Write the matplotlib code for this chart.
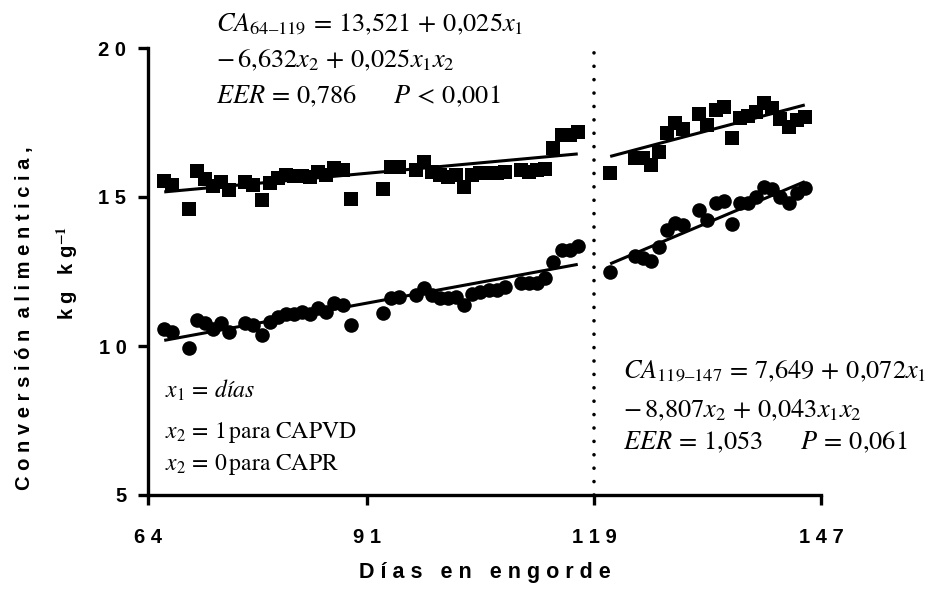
import numpy as np
import matplotlib.pyplot as plt

plt.rcParams['font.family'] = ['Liberation Sans', 'DejaVu Sans']
plt.rcParams['mathtext.fontset'] = 'stix'

# periodo 64-119
dias1 = [66, 67, 69, 70, 71, 72, 73, 74, 76, 77, 78, 79, 80, 81, 82, 83, 84, 85, 86, 87, 88, 89,
         93, 94, 95, 97, 98, 99, 100, 101, 102, 103, 104, 105, 106, 107, 108,
         110, 111, 112, 113, 114, 115, 116, 117]
capr1 = [15.53, 15.40, 14.59, 15.88, 15.59, 15.37, 15.51, 15.23, 15.51, 15.40, 14.90, 15.46,
         15.63, 15.74, 15.70, 15.70, 15.68, 15.85, 15.75, 15.96, 15.90, 14.92,
         15.27, 16.02, 16.02, 15.90, 16.18, 15.85, 15.74, 15.68, 15.74, 15.35, 15.74, 15.80,
         15.80, 15.80, 15.85, 15.90, 15.85, 15.90, 15.95, 16.63, 17.08, 17.08, 17.19]
capvd1 = [10.56, 10.48, 9.94, 10.87, 10.76, 10.56, 10.76, 10.48, 10.76, 10.70, 10.37, 10.82,
          10.98, 11.09, 11.09, 11.15, 11.09, 11.26, 11.15, 11.43, 11.38, 10.70,
          11.10, 11.60, 11.65, 11.71, 11.93, 11.71, 11.60, 11.60, 11.65, 11.38, 11.76, 11.82,
          11.88, 11.88, 11.99, 12.10, 12.10, 12.10, 12.27, 12.83, 13.22, 13.22, 13.36]

# periodo 119-147
dias2 = [121, 124, 125, 126, 127, 128, 129, 130, 132, 133, 134, 135, 136, 137, 138, 139,
         140, 141, 142, 143, 144, 145]
capr2 = [15.80, 16.30, 16.30, 16.07, 16.52, 17.16, 17.47, 17.27, 17.79, 17.42, 17.92, 18.01,
         16.97, 17.64, 17.72, 17.86, 18.14, 17.98, 17.61, 17.36, 17.58, 17.69]
capvd2 = [12.49, 13.02, 12.94, 12.86, 13.31, 13.89, 14.14, 14.06, 14.56, 14.23, 14.79, 14.88,
          14.09, 14.81, 14.79, 15.01, 15.35, 15.26, 15.01, 14.81, 15.15, 15.30]

# coeficientes de regresion (b0, b1, b2, b3)
coef1 = [13.521, 0.025, -6.632, 0.025]
coef2 = [7.649, 0.072, -8.807, 0.043]
rango1 = [66, 117]
rango2 = [121, 145]

xticks = [64, 91, 119, 147]
yticks = [5, 10, 15, 20]


def espaciar(s, sep=' ', wsep='   '):
    return wsep.join(sep.join(w) for w in s.split(' '))


def recta(c, x, x2):
    x = np.array(x, dtype=float)
    return c[0] + c[1] * x + c[2] * x2 + c[3] * x * x2


fig = plt.figure(figsize=(9.37, 5.94), dpi=100)
ax = fig.add_axes([148 / 937, 99 / 594, 673 / 937, 447 / 594])

ms = 10.5
for d, a, b in [(dias1, capr1, capvd1), (dias2, capr2, capvd2)]:
    ax.plot(d, a, 's', color='black', ms=ms, mew=0, clip_on=False)
    ax.plot(d, b, 'o', color='black', ms=ms, mew=0, clip_on=False)

for c, r in [(coef1, rango1), (coef2, rango2)]:
    ax.plot(r, recta(c, r, 0), color='black', lw=2.2, solid_capstyle='butt')
    ax.plot(r, recta(c, r, 1), color='black', lw=2.2, solid_capstyle='butt')

ax.axvline(119, color='black', lw=2.6, linestyle=(0, (0.01, 3.7)), dash_capstyle='round')

ax.set_xlim(64, 147)
ax.set_ylim(5, 20)
ax.set_xticks(xticks)
ax.set_yticks(yticks)
ax.set_xticklabels([espaciar(str(t)) for t in xticks])
ax.set_yticklabels([espaciar(str(t)) for t in yticks])
for s in ['top', 'right']:
    ax.spines[s].set_visible(False)
for s in ['left', 'bottom']:
    ax.spines[s].set_linewidth(2.4)
ax.tick_params(axis='both', width=2.4, length=7.5, labelsize=14.5)
ax.tick_params(axis='x', pad=16)
ax.tick_params(axis='y', pad=8)
for lab in ax.get_xticklabels() + ax.get_yticklabels():
    lab.set_fontweight('bold')

ax.set_xlabel(espaciar('Días en engorde'), fontsize=15.5, fontweight='bold', labelpad=11)
fig.text(25 / 937, 1 - 318 / 594, espaciar('Conversión alimenticia,', wsep='  '), rotation=90,
         fontsize=14.5, fontweight='bold', ha='center', va='center')
fig.text(67 / 937, 1 - 273 / 594, 'k g   k g$^{\\mathbf{-1}}$', rotation=90,
         fontsize=14.5, fontweight='bold', ha='center', va='center')

fs = 19
ax.text(0.101, 1.040, r'$CA_{64\mathrm{–}119}\,=\,13{,}521\,+\,0{,}025x_1$', transform=ax.transAxes,
        fontsize=fs, va='baseline')
ax.text(0.101, 0.957, r'$-\,6{,}632x_2\,+\,0{,}025x_1x_2$', transform=ax.transAxes,
        fontsize=fs, va='baseline')
ax.text(0.101, 0.877, r'$EER\,=\,0{,}786 \qquad P\,<\,0{,}001$', transform=ax.transAxes,
        fontsize=fs, va='baseline')

ax.text(0.706, 0.264, r'$CA_{119\mathrm{–}147}\,=\,7{,}649\,+\,0{,}072x_1$', transform=ax.transAxes,
        fontsize=fs, va='baseline')
ax.text(0.706, 0.174, r'$-\,8{,}807x_2\,+\,0{,}043x_1x_2$', transform=ax.transAxes,
        fontsize=fs, va='baseline')
ax.text(0.706, 0.101, r'$EER\,=\,1{,}053 \qquad P\,=\,0{,}061$', transform=ax.transAxes,
        fontsize=fs, va='baseline')

fs2 = 17
ax.text(0.025, 0.217, r'$x_1\,=\,\mathit{días}$', transform=ax.transAxes, fontsize=fs2, va='baseline')
ax.text(0.025, 0.128, r'$x_2\,=\,1\,\mathrm{para\ CAPVD}$', transform=ax.transAxes, fontsize=fs2,
        va='baseline')
ax.text(0.025, 0.056, r'$x_2\,=\,0\,\mathrm{para\ CAPR}$', transform=ax.transAxes, fontsize=fs2,
        va='baseline')

fig.savefig('out.png', dpi=100)
